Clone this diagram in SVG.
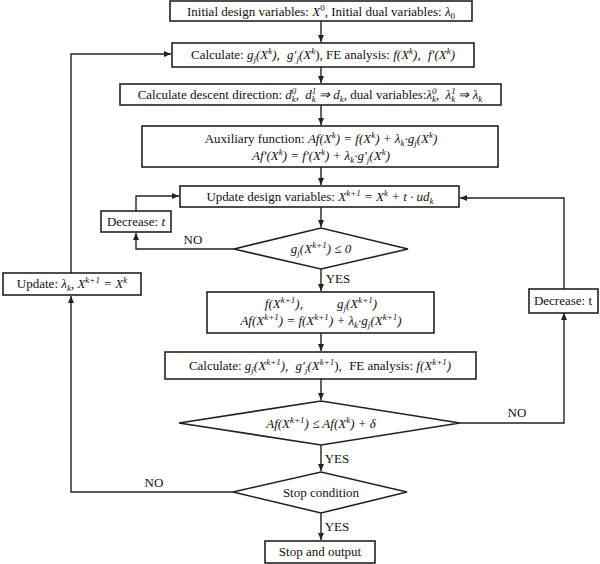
<svg xmlns="http://www.w3.org/2000/svg" width="600" height="564" viewBox="0 0 600 564" font-family="Liberation Serif, serif">
<defs>
<marker id="ah" markerWidth="8" markerHeight="8" refX="7" refY="4" orient="auto" markerUnits="userSpaceOnUse"><path d="M0,1 L7,4 L0,7 z" fill="#222"/></marker>
<style>
rect,polygon{fill:#fff;stroke:#222;stroke-width:1.6}
text{font-family:'Liberation Serif',serif;font-size:13px;fill:#111;text-anchor:middle}
.m{font-style:italic}
.s{font-size:9px}
#connectors path{fill:none;stroke:#222;stroke-width:1.4;marker-end:url(#ah)}
</style>
</defs>
<g id="connectors">
<path d="M321,21 V42"/>
<path d="M321,67 V83"/>
<path d="M321,105 V125"/>
<path d="M321,167 V185"/>
<path d="M321,207 V227"/>
<path d="M321,269 V291"/>
<path d="M321,333 V351"/>
<path d="M321,379 V400"/>
<path d="M321,445 V471"/>
<path d="M321,513 V540"/>
<path d="M234,249 H136 V233"/>
<path d="M136,211 V196 H179"/>
<path d="M233,492 H71 V296"/>
<path d="M71,273 V54 H171"/>
<path d="M460,423 H564 V313"/>
<path d="M564,289 V198 H460"/>
<text x="193" y="244">NO</text>
<text x="338" y="283">YES</text>
<text x="517" y="417">NO</text>
<text x="337" y="463">YES</text>
<text x="154" y="487">NO</text>
<text x="337" y="531">YES</text>
</g>
<g id="n1"><rect x="170" y="1" width="302" height="20"/>
<text x="321" y="15.5">Initial design variables: <tspan class="m">X</tspan><tspan class="s" dy="-5">0</tspan><tspan dy="5">, Initial dual variables: </tspan><tspan class="m">λ</tspan><tspan class="s" dy="3">0</tspan></text></g>
<g id="n2"><rect x="172" y="43" width="302" height="24"/>
<text x="323" y="59">Calculate: <tspan class="m">g<tspan class="s" dy="3">j</tspan><tspan dy="-3">(X</tspan><tspan class="s" dy="-5">k</tspan><tspan dy="5">), </tspan><tspan dx="4">g′</tspan><tspan class="s" dy="3">j</tspan><tspan dy="-3">(X</tspan><tspan class="s" dy="-5">k</tspan></tspan><tspan dy="5">), FE analysis: </tspan><tspan class="m">f(X<tspan class="s" dy="-5">k</tspan><tspan dy="5">), </tspan><tspan dx="4">f′(X</tspan><tspan class="s" dy="-5">k</tspan><tspan dy="5">)</tspan></tspan></text></g>
<g id="n3"><rect x="120" y="84" width="381" height="21"/>
<text x="310" y="98.5">Calculate descent direction: <tspan class="m">d<tspan class="s" dy="-5">0</tspan><tspan class="s" dx="-4.5" dy="8">k</tspan><tspan dy="-3">, </tspan><tspan dx="3">d</tspan><tspan class="s" dy="-5">1</tspan><tspan class="s" dx="-4.5" dy="8">k</tspan><tspan dy="-3"> ⇒ d</tspan><tspan class="s" dy="3">k</tspan></tspan><tspan dy="-3">, dual variables:</tspan><tspan class="m">λ<tspan class="s" dy="-5">0</tspan><tspan class="s" dx="-4.5" dy="8">k</tspan><tspan dy="-3">, </tspan><tspan dx="3">λ</tspan><tspan class="s" dy="-5">1</tspan><tspan class="s" dx="-4.5" dy="8">k</tspan><tspan dy="-3"> ⇒ λ</tspan><tspan class="s" dy="3">k</tspan></tspan></text></g>
<g id="n4"><rect x="142" y="126" width="356" height="41"/>
<text x="321" y="143">Auxiliary function: <tspan class="m">Af(X<tspan class="s" dy="-5">k</tspan><tspan dy="5">) = f(X</tspan><tspan class="s" dy="-5">k</tspan><tspan dy="5">) + λ</tspan><tspan class="s" dy="3">k</tspan><tspan dy="-3">·g</tspan><tspan class="s" dy="3">j</tspan><tspan dy="-3">(X</tspan><tspan class="s" dy="-5">k</tspan><tspan dy="5">)</tspan></tspan></text>
<text x="321" y="160" class="m">Af′(X<tspan class="s" dy="-5">k</tspan><tspan dy="5">) = f′(X</tspan><tspan class="s" dy="-5">k</tspan><tspan dy="5">) + λ</tspan><tspan class="s" dy="3">k</tspan><tspan dy="-3">·g′</tspan><tspan class="s" dy="3">j</tspan><tspan dy="-3">(X</tspan><tspan class="s" dy="-5">k</tspan><tspan dy="5">)</tspan></text></g>
<g id="n5"><rect x="180" y="186" width="279" height="21"/>
<text x="320" y="201">Update design variables: <tspan class="m">X<tspan class="s" dy="-5">k+1</tspan><tspan dy="5"> = X</tspan><tspan class="s" dy="-5">k</tspan><tspan dy="5"> + t · ud</tspan><tspan class="s" dy="3">k</tspan></tspan></text></g>
<g id="n6"><rect x="101" y="211" width="70" height="21"/>
<text x="136" y="226">Decrease: <tspan class="m">t</tspan></text></g>
<g id="n7"><polygon points="234,249 321,228 408,249 321,269"/>
<text x="321" y="253" class="m">g<tspan class="s" dy="3">j</tspan><tspan dy="-3">(X</tspan><tspan class="s" dy="-5">k+1</tspan><tspan dy="5">) ≤ 0</tspan></text></g>
<g id="n8"><rect x="3" y="273" width="138" height="22"/>
<text x="72" y="288">Update: <tspan class="m">λ<tspan class="s" dy="3">k</tspan><tspan dy="-3">, X</tspan><tspan class="s" dy="-5">k+1</tspan><tspan dy="5"> = X</tspan><tspan class="s" dy="-5">k</tspan></tspan></text></g>
<g id="n9"><rect x="207" y="292" width="227" height="41"/>
<text x="321" y="308" class="m">f(X<tspan class="s" dy="-5">k+1</tspan><tspan dy="5">),</tspan><tspan dx="34">g</tspan><tspan class="s" dy="3">j</tspan><tspan dy="-3">(X</tspan><tspan class="s" dy="-5">k+1</tspan><tspan dy="5">)</tspan></text>
<text x="321" y="325" class="m">Af(X<tspan class="s" dy="-5">k+1</tspan><tspan dy="5">) = f(X</tspan><tspan class="s" dy="-5">k+1</tspan><tspan dy="5">) + λ</tspan><tspan class="s" dy="3">k</tspan><tspan dy="-3">·g</tspan><tspan class="s" dy="3">j</tspan><tspan dy="-3">(X</tspan><tspan class="s" dy="-5">k+1</tspan><tspan dy="5">)</tspan></text></g>
<g id="n10"><rect x="529" y="289" width="69" height="24"/>
<text x="563" y="305">Decrease: t</text></g>
<g id="n11"><rect x="165" y="352" width="311" height="27"/>
<text x="320" y="370">Calculate: <tspan class="m">g<tspan class="s" dy="3">j</tspan><tspan dy="-3">(X</tspan><tspan class="s" dy="-5">k+1</tspan><tspan dy="5">), </tspan><tspan dx="4">g′</tspan><tspan class="s" dy="3">j</tspan><tspan dy="-3">(X</tspan><tspan class="s" dy="-5">k+1</tspan></tspan><tspan dy="5">), </tspan><tspan dx="4">FE analysis: </tspan><tspan class="m">f(X<tspan class="s" dy="-5">k+1</tspan><tspan dy="5">)</tspan></tspan></text></g>
<g id="n12"><polygon points="179,423 321,401 460,423 321,445"/>
<text x="321" y="428" class="m">Af(X<tspan class="s" dy="-5">k+1</tspan><tspan dy="5">) ≤ Af(X</tspan><tspan class="s" dy="-5">k</tspan><tspan dy="5">) + δ</tspan></text></g>
<g id="n13"><polygon points="233,492 321,472 407,492 321,513"/>
<text x="321" y="497">Stop condition</text></g>
<g id="n14"><rect x="265" y="541" width="110" height="22"/>
<text x="320" y="556">Stop and output</text></g>
</svg>
